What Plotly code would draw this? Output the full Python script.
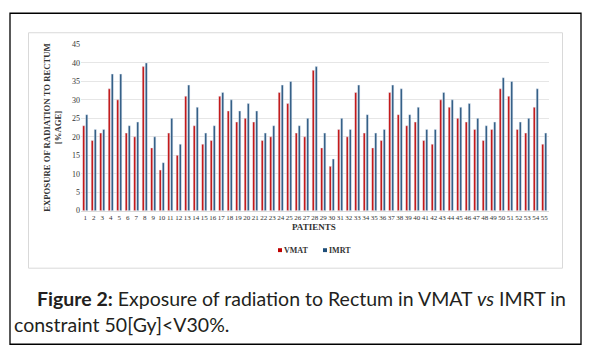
import plotly.graph_objects as go

patients = list(range(1, 56))
tick_labels = [str(p) for p in patients]
vmat = [23, 19, 21, 33, 30, 21, 20, 39, 17, 11, 21, 15, 31, 23, 18, 19, 31, 27, 24, 25,
        24, 19, 20, 32, 29, 21, 20, 38, 17, 12, 22, 20, 32, 21, 17, 19, 32, 26, 23, 24,
        19, 18, 30, 28, 25, 24, 22, 19, 22, 33, 31, 22, 21, 28, 18]
imrt = [26, 22, 22, 37, 37, 23, 24, 40, 20, 13, 25, 18, 34, 28, 21, 23, 32, 30, 27, 29,
        27, 21, 23, 34, 35, 23, 25, 39, 21, 14, 25, 22, 34, 26, 21, 22, 34, 33, 26, 28,
        22, 22, 32, 30, 28, 29, 25, 23, 24, 36, 35, 24, 25, 33, 21]
y_ticks = [0, 5, 10, 15, 20, 25, 30, 35, 40, 45]

W, H = 593, 358
def px(x):
    return x / W
def py(y):
    return 1 - y / H

RED = "#C00000"
BLUE = "#1F4E79"
SERIF = "Liberation Serif"

fig = go.Figure()
fig.add_trace(go.Bar(x=patients, y=vmat, name="VMAT", marker_color=RED, showlegend=False))
fig.add_trace(go.Bar(x=patients, y=imrt, name="IMRT", marker_color=BLUE, showlegend=False))

fig.update_layout(
    width=W, height=H,
    margin=dict(l=0, r=0, t=0, b=0),
    paper_bgcolor="white", plot_bgcolor="white",
    barmode="group", bargap=0.29, bargroupgap=0.33,
    xaxis=dict(
        domain=[px(81), px(548.5)], range=[0.5, 55.5],
        tickmode="array", tickvals=patients, ticktext=tick_labels,
        tickangle=0, tickfont=dict(family=SERIF, size=7, color="#333333"),
        showgrid=False, showline=True, linecolor="#D9D9D9", linewidth=1,
        ticks="", zeroline=False,
    ),
    yaxis=dict(
        domain=[py(212), py(41.5)], range=[0, 45],
        tickmode="array", tickvals=y_ticks,
        tickfont=dict(family=SERIF, size=8, color="#333333"),
        showgrid=True, gridcolor="#E6E6E6", gridwidth=1,
        zeroline=False, showline=False, ticks="",
    ),
    font=dict(family=SERIF),
)

annotations = [
    dict(text="<b>EXPOSURE OF RADIATION TO RECTUM</b><br><b>[%AGE]</b>",
         x=px(53), y=py(127), xref="paper", yref="paper", textangle=-90,
         showarrow=False, font=dict(family=SERIF, size=8.7, color="#333333"),
         xanchor="center", yanchor="middle"),
    dict(text="<b>PATIENTS</b>", x=px(314), y=py(229), xref="paper", yref="paper",
         showarrow=False, font=dict(family=SERIF, size=9, color="#333333"),
         xanchor="center", yanchor="middle"),
    dict(text="<b>VMAT</b>", x=px(282), y=py(252.5), xref="paper", yref="paper",
         showarrow=False, font=dict(family=SERIF, size=8, color="#333333"),
         xanchor="left", yanchor="middle"),
    dict(text="<b>IMRT</b>", x=px(327), y=py(252.5), xref="paper", yref="paper",
         showarrow=False, font=dict(family=SERIF, size=8, color="#333333"),
         xanchor="left", yanchor="middle"),
    dict(text="<b>Figure 2:</b> Exposure of radiation to Rectum in VMAT <i>vs</i> IMRT in",
         x=px(35), y=py(302), xref="paper", yref="paper", showarrow=False,
         font=dict(family="Lato", size=19.5, color="#231F20"),
         xanchor="left", yanchor="middle"),
    dict(text="constraint 50[Gy]&lt;V30%.",
         x=px(12), y=py(329), xref="paper", yref="paper", showarrow=False,
         font=dict(family="Lato", size=19.5, color="#231F20"),
         xanchor="left", yanchor="middle"),
]
fig.update_layout(annotations=annotations)

shapes = [
    dict(type="rect", xref="paper", yref="paper", x0=px(10), x1=px(581), y0=py(349), y1=py(9.5),
         line=dict(color="black", width=1.3), fillcolor="rgba(0,0,0,0)", layer="below"),
    dict(type="rect", xref="paper", yref="paper", x0=px(28.5), x1=px(562.5), y0=py(271), y1=py(29.5),
         line=dict(color="#D9D9D9", width=1), fillcolor="rgba(0,0,0,0)", layer="below"),
    dict(type="rect", xref="paper", yref="paper", x0=px(278), x1=px(282), y0=py(254.5), y1=py(250.5),
         line=dict(width=0), fillcolor=RED),
    dict(type="rect", xref="paper", yref="paper", x0=px(323), x1=px(327), y0=py(254.5), y1=py(250.5),
         line=dict(width=0), fillcolor=BLUE),
]
fig.update_layout(shapes=shapes)

fig.write_html("out.html", config={"displayModeBar": False},
               post_script="document.body.style.margin='0';")
